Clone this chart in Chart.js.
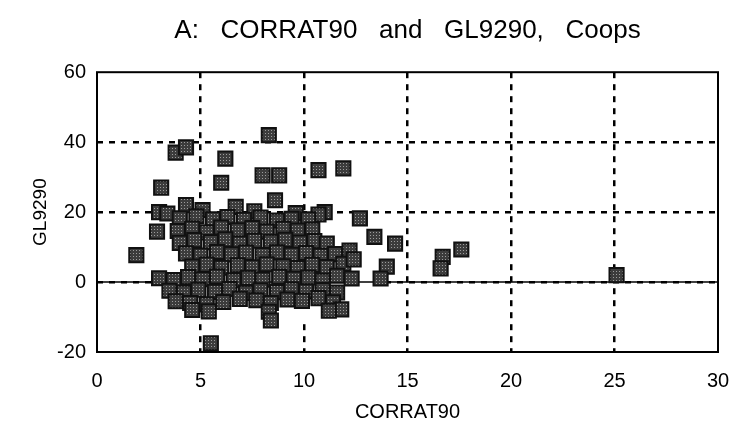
<!DOCTYPE html>
<html>
<head>
<meta charset="utf-8">
<script src="https://cdn.jsdelivr.net/npm/chart.js@4"></script>
<style>
    html, body { margin: 0; padding: 0; background: #fff; overflow: hidden; }
    #wrap { width: 733px; height: 429px; }
    canvas { display: block; }
</style>
</head>
<body>
<div id="wrap"><canvas id="myChart"></canvas></div>
<script>
// CORRAT90 (x) and GL9290 (y) for each coop
const corrat90 = [
    1.9, 2.9, 3.0, 3.4, 3.1, 3.8, 4.3, 6.2, 6.0, 8.0, 8.8, 8.3, 10.7, 11.9, 11.0, 10.7, 12.7,
    13.4, 14.4, 14.0, 13.7, 16.7, 17.6, 16.6, 25.1, 5.5,
    4.3, 5.1, 6.7, 8.6, 9.6, 7.6,
    4.0, 4.8, 5.6, 6.3, 7.1, 7.9, 8.7, 9.4, 10.2,
    3.9, 4.6, 5.3, 6.0, 6.8, 7.5, 8.2, 9.0, 9.7, 10.4,
    4.0, 4.7, 5.5, 6.2, 6.9, 7.6, 8.4, 9.1, 9.8, 10.5, 11.1,
    4.3, 5.0, 5.8, 6.5, 7.2, 8.0, 8.7, 9.4, 10.1, 10.8, 11.5, 12.2,
    4.6, 5.3, 6.0, 6.8, 7.5, 8.2, 9.0, 9.7, 10.4, 11.1, 11.9, 12.4,
    3.0, 3.7, 4.4, 5.1, 5.8, 6.6, 7.3, 8.0, 8.8, 9.5, 10.2, 10.9, 11.6, 12.3,
    3.5, 4.2, 4.9, 5.7, 6.4, 7.2, 7.9, 8.7, 9.4, 10.1, 10.9, 11.6,
    3.8, 4.5, 5.3, 6.1, 6.9, 7.7, 8.4, 9.2, 9.9, 10.7, 11.4, 11.8,
    4.6, 5.4, 8.3, 11.2, 8.4
];
const gl9290 = [
    7.7, 14.4, 20.0, 19.6, 27.0, 37.0, 38.5, 35.3, 28.4, 30.5, 30.5, 42.0, 32.0, 32.5, 20.0, 19.3, 18.2,
    12.9, 11.0, 4.4, 1.0, 7.2, 9.3, 3.9, 2.0, -17.5,
    22.0, 20.6, 21.5, 23.4, 19.7, 20.2,
    18.2, 18.8, 17.9, 18.6, 17.8, 18.4, 17.6, 18.1, 17.9,
    14.6, 15.3, 14.2, 15.6, 14.8, 15.4, 14.4, 15.2, 14.7, 15.0,
    11.2, 12.0, 11.4, 12.2, 11.0, 11.8, 11.5, 12.1, 11.3, 11.7, 11.0,
    8.2, 7.6, 8.6, 7.9, 8.4, 7.7, 8.5, 7.8, 8.3, 7.5, 8.0, 9.0,
    4.4, 5.0, 4.1, 4.8, 4.2, 5.1, 4.5, 4.0, 4.9, 4.3, 5.2, 6.5,
    1.1, 0.6, 1.4, 0.8, 1.6, 0.5, 1.2, 0.7, 1.5, 0.9, 1.3, 0.4, 1.8, 1.0,
    -2.5, -3.0, -2.2, -2.8, -2.0, -3.1, -2.4, -2.9, -2.1, -2.7, -2.3, -3.0,
    -5.5, -6.0, -6.4, -5.7, -4.8, -5.2, -6.0, -5.0, -5.4, -4.6, -5.8, -7.8,
    -8.0, -8.4, -8.5, -8.2, -11.0
];
const xTicks = [0, 5, 10, 15, 20, 25, 30];
const yTicks = [-20, 0, 20, 40, 60];

const points = corrat90.map((x, i) => ({ x: x, y: gl9290[i] }));

const ctx = document.getElementById('myChart').getContext('2d');

// dotted fill like the printed markers
const patternCanvas = document.createElement('canvas');
patternCanvas.width = 3;
patternCanvas.height = 3;
const pctx = patternCanvas.getContext('2d');
pctx.fillStyle = '#3c3c3c';
pctx.fillRect(0, 0, 3, 3);
pctx.fillStyle = '#9c9c9c';
pctx.fillRect(1, 1, 1, 1);
const markerFill = ctx.createPattern(patternCanvas, 'repeat');

const FONT = "'Liberation Sans', Arial, Helvetica, sans-serif";

// hide grid lines that sit on the frame
const gridColor = (ends) => (c) => (c.tick && ends.includes(c.tick.value)) ? 'rgba(0,0,0,0)' : '#000';

const framePlugin = {
    id: 'frame',
    beforeDatasetsDraw(chart) {
        const { ctx, chartArea, scales: { x, y } } = chart;
        ctx.save();
        // blank patch behind the dense cluster (grid is hidden there in the original)
        const l = x.getPixelForValue(2.8), r = x.getPixelForValue(13.4);
        const t = y.getPixelForValue(17), b = y.getPixelForValue(-11.5);
        ctx.fillStyle = '#fff';
        ctx.fillRect(l, t, r - l, b - t);
        // solid zero line
        const y0 = y.getPixelForValue(0);
        ctx.strokeStyle = '#000';
        ctx.lineWidth = 1.5;
        ctx.beginPath();
        ctx.moveTo(chartArea.left, y0);
        ctx.lineTo(chartArea.right, y0);
        ctx.stroke();
        ctx.restore();
    },
    afterDatasetsDraw(chart) {
        const { ctx, chartArea } = chart;
        ctx.save();
        ctx.strokeStyle = '#000';
        ctx.lineWidth = 2;
        ctx.strokeRect(chartArea.left, chartArea.top, chartArea.right - chartArea.left, chartArea.bottom - chartArea.top);
        ctx.restore();
    }
};

new Chart(ctx, {
    type: 'scatter',
    data: {
        datasets: [{
            label: 'Coops',
            data: points,
            pointStyle: 'rect',
            pointRadius: 10,
            pointHoverRadius: 10,
            pointBorderWidth: 2,
            pointBackgroundColor: markerFill,
            pointBorderColor: '#111'
        }]
    },
    options: {
        responsive: true,
        maintainAspectRatio: false,
        animation: false,
        events: [],
        layout: { padding: { left: 0, right: 15, top: 0, bottom: 0 } },
        plugins: {
            legend: { display: false },
            tooltip: { enabled: false },
            title: {
                display: true,
                fullSize: false,
                text: 'A:   CORRAT90   and   GL9290,   Coops',
                color: '#000',
                font: { family: FONT, size: 26, weight: 'normal' },
                padding: { top: 15, bottom: 26 }
            }
        },
        scales: {
            x: {
                type: 'linear',
                min: 0,
                max: 30,
                afterBuildTicks: axis => { axis.ticks = xTicks.map(v => ({ value: v })); },
                afterFit: scale => {
                    scale.height = 77;
                    scale.paddingLeft = 0;
                    scale.paddingRight = 0;
                },
                ticks: { color: '#000', font: { family: FONT, size: 20 }, padding: 17, maxRotation: 0 },
                grid: { color: gridColor([0, 30]), lineWidth: 2.5, drawTicks: false },
                border: { display: false, dash: [6, 6] },
                title: {
                    display: true,
                    text: 'CORRAT90',
                    color: '#000',
                    font: { family: FONT, size: 20 },
                    padding: { top: 0, bottom: 5 }
                }
            },
            y: {
                type: 'linear',
                min: -20,
                max: 60,
                afterBuildTicks: axis => { axis.ticks = yTicks.map(v => ({ value: v })); },
                afterFit: scale => { scale.width = 97; },
                ticks: { color: '#000', font: { family: FONT, size: 20 }, padding: 11 },
                grid: { color: gridColor([-20, 60]), lineWidth: 2.5, drawTicks: false },
                border: { display: false, dash: [6, 6] },
                title: {
                    display: true,
                    text: 'GL9290',
                    color: '#000',
                    font: { family: FONT, size: 19 },
                    padding: { top: 29, bottom: 0 }
                }
            }
        }
    },
    plugins: [framePlugin]
});
</script>
</body>
</html>
